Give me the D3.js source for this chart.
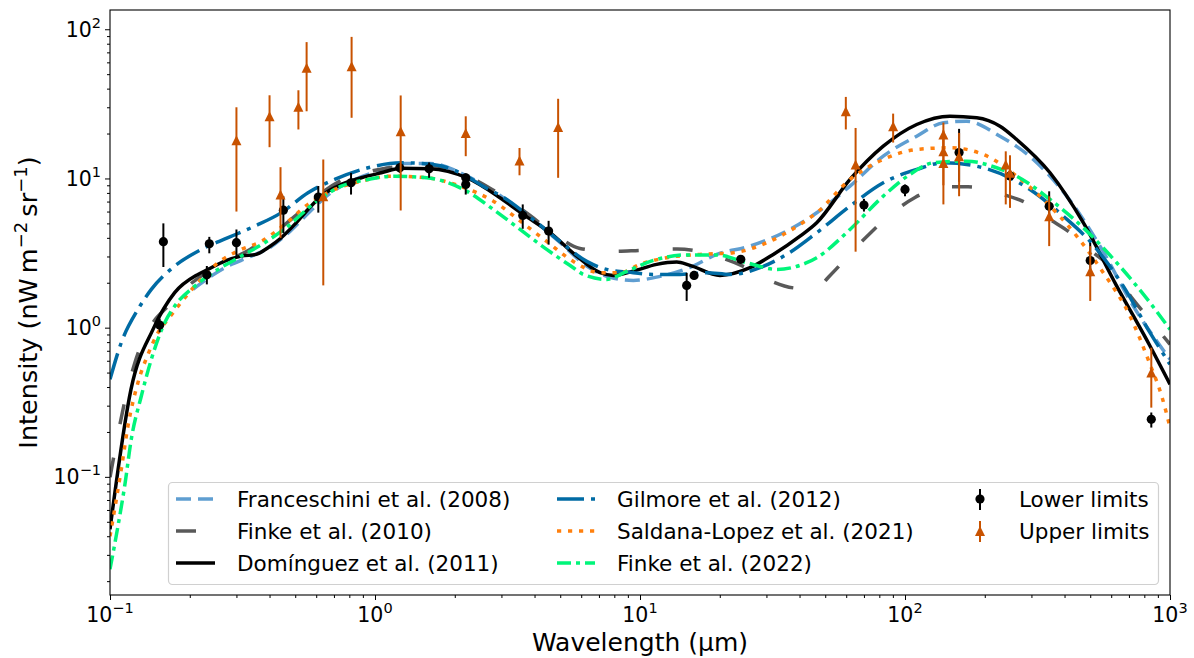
<!DOCTYPE html>
<html><head><meta charset="utf-8">
<script src="https://cdn.jsdelivr.net/npm/d3@7"></script>
<style>body{margin:0;background:#fff} text{font-family:"DejaVu Sans",sans-serif;fill:#000}</style>
</head><body><svg id="c" width="1194" height="658"></svg>
<script>
// ---------- data ----------
const franceschiniWl=[0.2056,0.2709,0.3413,0.4016,0.4777,0.5683,0.6761,0.8405,1.044,1.298,1.612,2.205,2.963,3.846,4.991,6.295,7.704,9.434,11.90,15.44,19.48,26.01,34.74,46.44,62.01,82.79,110.7,139.5,170.9,228.3,305.0,407.6,544.2,726.8,1000];
const franceschiniI=[1.805,2.522,3.017,3.451,4.416,6.012,7.934,9.846,11.31,12.60,12.60,10.47,7.693,5.482,3.727,2.586,2.173,2.074,2.206,2.534,3.097,3.521,4.328,5.892,8.879,14.11,19.20,23.61,24.20,19.20,13.41,7.61,3.521,1.395,0.613];

const finke2010Wl=[0.1,0.1063,0.1120,0.1243,0.1415,0.1656,0.2004,0.2601,0.3375,0.3845,0.4990,0.5683,0.7571,0.9574,1.243,1.612,2.205,2.963,3.846,4.819,5.937,7.704,10,13.79,20.04,26.01,31.48,40.17,46.96,52.57,65.33,74.38,93.28,109.1,145.3,172.9,234.3,278.8,352.6,419.4,512.1,593.7,725.0,818.8,1000];
const finke2010I=[0.0994,0.1786,0.2837,0.5855,1.005,1.395,1.950,2.655,3.344,3.904,5.591,6.907,9.846,11.14,12.03,12.22,10.47,7.813,5.652,4.152,3.397,3.245,3.295,3.372,2.957,2.457,2.042,1.833,1.891,2.275,3.451,4.348,6.2,7.459,8.772,8.800,7.813,7.015,5.313,4.348,3.194,2.574,1.547,1.190,0.773];

const dominguezWl=[0.1,0.12,0.1453,0.1754,0.2148,0.2343,0.2709,0.3129,0.3565,0.3946,0.4429,0.4977,0.5587,0.627,0.7462,0.8878,1.056,1.257,1.612,2.218,2.963,3.627,4.575,5.769,7.066,7.931,9.434,11.56,13.76,15.44,20.04,26.01,31.84,40.17,46.44,62.01,82.79,110.7,147.8,186.5,228.3,263.9,352.6,470.8,629.5,840.5,1000];
const dominguezI=[0.0446,0.386,0.974,1.716,2.275,2.457,2.793,3.017,3.097,3.435,4.007,4.92,6.2,7.61,9.118,10.11,10.92,11.7,11.61,10.11,7.425,5.741,4.328,3.017,2.335,2.24,2.394,2.655,2.75,2.614,2.24,2.522,3.097,4.107,5.05,9.846,16.45,23.0,26.15,25.51,22.4,18.25,10.92,5.05,1.899,0.753,0.417];

const gilmoreWl=[0.1,0.1103,0.1275,0.1432,0.1754,0.2211,0.2789,0.3516,0.4429,0.5587,0.7045,0.9410,1.257,1.655,2.093,2.556,3.141,3.947,4.991,6.295,7.485,9.434,11.23,14.16,17.85,21.86,28.37,35.78,46.44,62.01,82.79,110.7,139.5,197.5,296.3,395.8,499.1,666.5,840.5,1000];
const gilmoreI=[0.4506,0.7933,1.326,1.805,2.586,3.344,4.007,4.792,5.892,8.021,9.846,11.79,12.74,12.41,10.92,8.879,7.234,5.313,3.785,2.780,2.457,2.335,2.275,2.275,2.335,2.275,2.522,3.097,4.328,6.52,9.359,11.49,12.74,11.79,8.44,5.591,3.785,1.899,0.926,0.5677];

const saldanaWl=[0.1,0.1103,0.1169,0.1275,0.1391,0.1518,0.1656,0.2088,0.2556,0.3129,0.3723,0.4561,0.5587,0.7045,0.8878,1.152,1.567,2.093,2.795,3.737,4.445,5.603,7.066,8.404,10,12.61,16.84,22.50,30.07,40.17,46.44,62.01,82.79,110.7,147.8,197.5,263.9,332.6,444.6,560.2,706.5,840.5,930.4,1000];
const saldanaI=[0.04,0.1124,0.2193,0.4281,0.662,0.926,1.137,1.899,2.724,3.344,3.785,4.92,6.698,8.44,9.592,10.36,10.11,8.879,7.047,4.792,3.785,2.780,2.335,2.335,2.655,2.944,3.097,3.179,3.71,4.92,5.892,9.846,13.41,15.64,16.05,14.48,10.36,7.234,4.107,2.335,1.196,0.568,0.348,0.2149];

const finke2022Wl=[0.1,0.1072,0.1136,0.1203,0.1313,0.1432,0.1608,0.1754,0.2088,0.2556,0.3129,0.3836,0.4695,0.5923,0.7462,0.9410,1.187,1.567,2.218,2.795,3.526,4.445,5.603,6.109,7.485,8.910,11.23,15.01,19.48,25.27,32.79,42.58,46.44,62.01,82.79,104.4,127.9,170.9,221.8,263.9,352.6,470.8,629.5,840.5,1000];
const finke2022I=[0.02405,0.0469,0.0869,0.1786,0.3482,0.613,1.08,1.395,1.899,2.457,3.017,3.71,4.792,6.874,8.879,9.846,10.36,10.11,8.222,6.2,4.553,3.344,2.522,2.275,2.106,2.383,2.824,3.073,3.073,2.724,2.457,2.724,2.944,4.553,7.61,10.64,12.74,13.06,11.79,10.36,7.234,4.675,2.724,1.47,0.974];

const lowerWl=[0.154,0.159,0.232,0.237,0.30,0.451,0.611,0.812,1.24,1.60,2.20,2.20,3.61,4.52,15.0,16.0,24.0,70,100,160,249,350,500,850];
const lowerI=[1.04,3.77,2.26,3.65,3.71,6.13,7.5,9.36,11.8,11.6,10.1,9.12,5.65,4.44,1.92,2.24,2.87,6.63,8.44,14.9,10.4,6.5,2.82,0.243];
const lowerLo=[0.93,2.55,1.95,3.15,3.02,4.3,5.9,7.8,10.9,10.1,9.5,7.8,4.6,3.6,1.51,2.1,2.7,6.0,7.6,9.5,9.3,5.5,2.2,0.214];
const lowerHi=[1.15,5.0,2.59,4.06,4.55,7.6,8.9,10.9,12.7,12.8,10.8,10.4,6.7,5.2,2.33,2.4,3.05,7.3,9.1,21.5,11.6,8.2,3.7,0.27];

const upperWl=[0.30,0.40,0.44,0.514,0.552,0.638,0.816,1.25,2.2,3.51,4.91,59.8,65.1,90.2,139.6,139.6,139.6,160,240,249,350,500,850];
const upperI=[18.0,26.1,7.8,30.2,55.1,7.6,56.5,20.7,20.2,13.2,22.1,28.2,12.4,22.4,19.7,15.2,12.7,14.1,12.4,10.9,5.59,2.39,0.50];
const upperLo=[6.0,16.2,4.0,21.3,28.2,1.92,25.5,6.1,14.1,10.5,10.1,21.3,3.23,17.4,15.6,9.0,6.7,7.6,6.7,6.35,3.52,1.51,0.291];
const upperHi=[30.0,36.1,11.9,39.0,82.0,13.4,88.9,36.0,26.1,16.0,34.2,35.2,21.8,27.2,23.7,21.0,18.5,20.2,15.2,14.3,7.6,3.52,0.734];

const xTickExps=[-1,0,1,2,3];
const yTickExps=[-1,0,1,2];
const xLabel="Wavelength (μm)";

// ---------- setup ----------
const m={l:110,r:1170,t:10,b:595};
const svg=d3.select("#c");
const x=d3.scaleLog().domain([0.1,1000]).range([m.l,m.r]);
const y=d3.scaleLog().domain([0.01615,134.6]).range([m.b,m.t]);

const models=[
 {name:"Franceschini et al. (2008)",wl:franceschiniWl,I:franceschiniI,color:"#5F9ED1",dash:"15,7"},
 {name:"Finke et al. (2010)",wl:finke2010Wl,I:finke2010I,color:"#595959",dash:"20,34"},
 {name:"Domínguez et al. (2011)",wl:dominguezWl,I:dominguezI,color:"#000000",dash:null},
 {name:"Gilmore et al. (2012)",wl:gilmoreWl,I:gilmoreI,color:"#006BA4",dash:"27,7,4,7"},
 {name:"Saldana-Lopez et al. (2021)",wl:saldanaWl,I:saldanaI,color:"#FF800E",dash:"4.2,6.8"},
 {name:"Finke et al. (2022)",wl:finke2022Wl,I:finke2022I,color:"#00F57A",dash:"14,5,4,5"}
];

svg.append("defs").append("clipPath").attr("id","clip").append("rect")
 .attr("x",m.l).attr("y",m.t).attr("width",m.r-m.l).attr("height",m.b-m.t);
const plot=svg.append("g").attr("clip-path","url(#clip)");
const line=d3.line().x(d=>x(d[0])).y(d=>y(d[1])).curve(d3.curveMonotoneX);
models.forEach(s=>{
 plot.append("path").datum(d3.zip(s.wl,s.I)).attr("d",line)
  .attr("fill","none").attr("stroke",s.color).attr("stroke-width",3.5)
  .attr("stroke-dasharray",s.dash);
});

// lower limits
const lowC="#000000", upC="#C85200";
const lower=d3.zip(lowerWl,lowerI,lowerLo,lowerHi);
plot.selectAll(".lbar").data(lower).join("line")
 .attr("x1",d=>x(d[0])).attr("x2",d=>x(d[0])).attr("y1",d=>y(d[2])).attr("y2",d=>y(d[3]))
 .attr("stroke",lowC).attr("stroke-width",2);
plot.selectAll(".ldot").data(lower).join("circle")
 .attr("cx",d=>x(d[0])).attr("cy",d=>y(d[1])).attr("r",4.6).attr("fill",lowC);

// upper limits
const upper=d3.zip(upperWl,upperI,upperLo,upperHi);
const tri=(cx,cy,s)=>`M${cx},${cy-s}L${cx+s},${cy+s}L${cx-s},${cy+s}Z`;
plot.selectAll(".ubar").data(upper).join("line")
 .attr("x1",d=>x(d[0])).attr("x2",d=>x(d[0])).attr("y1",d=>y(d[2])).attr("y2",d=>y(d[3]))
 .attr("stroke",upC).attr("stroke-width",2);
plot.selectAll(".utri").data(upper).join("path")
 .attr("d",d=>tri(x(d[0]),y(d[1]),5)).attr("fill",upC);

// ---------- axes ----------
const majX=xTickExps.map(e=>Math.pow(10,e));
const minX=[];xTickExps.slice(0,-1).forEach(e=>{for(let k=2;k<10;k++)minX.push(k*Math.pow(10,e));});
const majY=yTickExps.map(e=>Math.pow(10,e));
const minY=[];[-2,-1,0,1,2].forEach(e=>{for(let k=2;k<10;k++){const v=k*Math.pow(10,e);if(v>0.01615&&v<134.6)minY.push(v);}});

function ax(g){g.select(".domain").remove();g.selectAll("line").attr("stroke","#000").attr("stroke-width",1);}
svg.append("g").attr("transform",`translate(0,${m.b})`).call(d3.axisBottom(x).tickValues(majX).tickSize(5).tickSizeOuter(0).tickFormat("")).call(ax);
svg.append("g").attr("transform",`translate(0,${m.b})`).call(d3.axisBottom(x).tickValues(minX).tickSize(3).tickSizeOuter(0).tickFormat("")).call(ax);
svg.append("g").attr("transform",`translate(${m.l},0)`).call(d3.axisLeft(y).tickValues(majY).tickSize(5).tickSizeOuter(0).tickFormat("")).call(ax);
svg.append("g").attr("transform",`translate(${m.l},0)`).call(d3.axisLeft(y).tickValues(minY).tickSize(3).tickSizeOuter(0).tickFormat("")).call(ax);

svg.append("rect").attr("x",m.l).attr("y",m.t).attr("width",m.r-m.l).attr("height",m.b-m.t)
 .attr("fill","none").attr("stroke","#000").attr("stroke-width",1.1);

const expStr=e=>e<0?"\u2212"+(-e):String(e);
xTickExps.forEach(e=>{
 const t=svg.append("text").attr("x",x(Math.pow(10,e))).attr("y",622).attr("text-anchor","middle").attr("font-size",20.5);
 t.append("tspan").text("10");
 t.append("tspan").attr("dy",-9).attr("font-size",14.5).text(expStr(e));
});
yTickExps.forEach(e=>{
 const t=svg.append("text").attr("x",101).attr("y",y(Math.pow(10,e))+7.5).attr("text-anchor","end").attr("font-size",20.5);
 t.append("tspan").text("10");
 t.append("tspan").attr("dy",-9).attr("font-size",14.5).text(expStr(e));
});

svg.append("text").attr("x",(m.l+m.r)/2).attr("y",651).attr("text-anchor","middle").attr("font-size",25).text(xLabel);
const yl=svg.append("text").attr("transform",`translate(37,${(m.t+m.b)/2}) rotate(-90)`).attr("text-anchor","middle").attr("font-size",25.5);
yl.append("tspan").text("Intensity (nW\u2009m");
yl.append("tspan").attr("dy",-10).attr("font-size",18).text("\u22122");
yl.append("tspan").attr("dy",10).text("\u2009sr");
yl.append("tspan").attr("dy",-10).attr("font-size",18).text("\u22121");
yl.append("tspan").attr("dy",10).text(")");

// ---------- legend ----------
const lg=svg.append("g");
lg.append("rect").attr("x",168.5).attr("y",482.5).attr("width",990).attr("height",102).attr("rx",4)
 .attr("fill","#fff").attr("fill-opacity",0.8).attr("stroke","#d0d0d0").attr("stroke-width",1.2);
const rowsY=[499,531,563];
const cols=[{h0:176,h1:215,tx:237},{h0:557,h1:595,tx:617}];
models.forEach((s,i)=>{
 const c=cols[Math.floor(i/3)],yy=rowsY[i%3];
 lg.append("line").attr("x1",c.h0).attr("x2",c.h1).attr("y1",yy).attr("y2",yy)
  .attr("stroke",s.color).attr("stroke-width",3.5).attr("stroke-dasharray",s.dash);
 lg.append("text").attr("x",c.tx).attr("y",yy+8).attr("font-size",21.5).text(s.name);
});
// markers
lg.append("line").attr("x1",980).attr("x2",980).attr("y1",489).attr("y2",510).attr("stroke",lowC).attr("stroke-width",2);
lg.append("circle").attr("cx",980).attr("cy",499).attr("r",4.6).attr("fill",lowC);
lg.append("text").attr("x",1019).attr("y",507).attr("font-size",21.5).text("Lower limits");
lg.append("line").attr("x1",980).attr("x2",980).attr("y1",521).attr("y2",542).attr("stroke",upC).attr("stroke-width",2);
lg.append("path").attr("d",tri(980,531,5)).attr("fill",upC);
lg.append("text").attr("x",1019).attr("y",539).attr("font-size",21.5).text("Upper limits");
</script></body></html>
